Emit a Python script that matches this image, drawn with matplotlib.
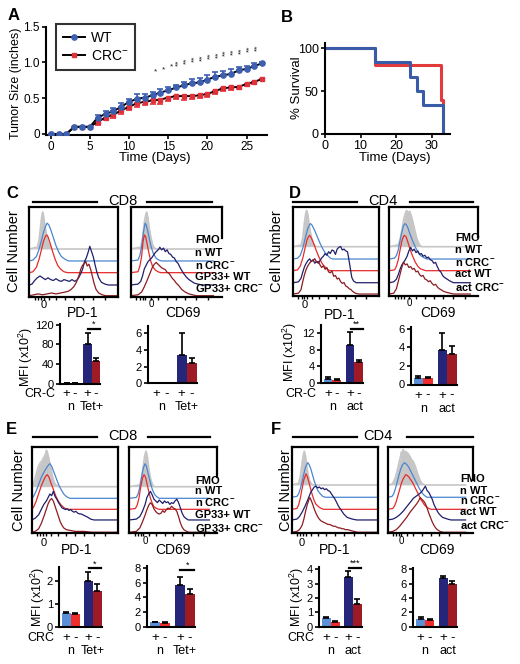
import numpy as np
import matplotlib
matplotlib.use("Agg")
import matplotlib.pyplot as plt
from matplotlib.lines import Line2D
from matplotlib.transforms import blended_transform_factory

plt.rcParams["font.family"] = ["Liberation Sans", "DejaVu Sans"]
plt.rcParams["mathtext.default"] = "regular"

W, H = 520, 664

# ---------------- data ----------------
# A: tumor growth
days = list(range(28))
wt_size = [0, 0, 0, 0.1, 0.1, 0.1, 0.23, 0.28, 0.32, 0.38, 0.45, 0.49, 0.51, 0.54, 0.58, 0.61,
           0.65, 0.68, 0.71, 0.72, 0.76, 0.8, 0.82, 0.84, 0.89, 0.91, 0.95, 0.99]
wt_err = [0, 0, 0, 0, 0, 0, 0.04, 0.04, 0.05, 0.06, 0.04, 0.07, 0.05, 0.05, 0.05, 0.05,
          0.04, 0.05, 0.06, 0.06, 0.06, 0.06, 0.06, 0.07, 0.05, 0.04, 0.04, 0.02]
crc_size = [0, 0, 0, 0.1, 0.1, 0.1, 0.17, 0.23, 0.27, 0.33, 0.38, 0.43, 0.45, 0.47, 0.48, 0.51,
            0.53, 0.53, 0.53, 0.54, 0.56, 0.6, 0.64, 0.65, 0.66, 0.7, 0.73, 0.77]
crc_err = [0, 0, 0, 0, 0, 0, 0.04, 0.04, 0.05, 0.05, 0.05, 0.05, 0.05, 0.05, 0.06, 0.05,
           0.04, 0.05, 0.04, 0.03, 0.04, 0.04, 0.04, 0.03, 0.03, 0.03, 0.03, 0.02]
star_days = list(range(14, 28))
star_text = ["*"] * 3 + ["**"] * 11
star_y = [0.87, 0.9, 0.94, 1.0, 1.03, 1.05, 1.07, 1.09, 1.11, 1.13, 1.15, 1.17, 1.19, 1.21]

# B: survival
wt_time = [0, 14, 24, 26, 27.6, 33.3]
wt_surv = [100, 83.3, 66.7, 50, 33.3, 0]
crc_time = [0, 14, 32.8, 33.3]
crc_surv = [100, 80, 40, 0]

# histogram curves, (channel, height) pairs: FMO, n WT, n CRC-, act/GP33+ WT, act/GP33+ CRC-
c_pd1 = [
    [(9, 2), (11, 10), (13, 28), (14, 36), (15, 41), (16, 37), (17, 30), (19, 18), (21, 8), (23, 3), (26, 0)],
    [(4, 1), (8, 5), (11, 13), (14, 24), (16, 32), (18, 38), (20, 42), (22, 40), (24, 35), (27, 26), (30, 17),
     (33, 10), (36, 5), (40, 2), (44, 0)],
    [(4, 1), (8, 6), (11, 15), (14, 27), (16, 35), (18, 40), (19.5, 42), (21, 40), (23, 34), (26, 24), (29, 15),
     (32, 8), (35, 4), (39, 1), (43, 0)],
    [(3, 1), (6, 5), (9, 8), (12, 10), (15, 8), (18, 6), (21, 8), (24, 6), (27, 5), (30, 7), (33, 5), (36, 4),
     (39, 6), (42, 5), (45, 4), (48, 6), (51, 4), (54, 6), (56, 9), (58, 13), (60, 18), (62, 26), (64, 30),
     (66, 36), (68, 43), (70, 37), (72, 31), (74, 22), (76, 14), (78, 8), (81, 3), (85, 1), (89, 0)],
    [(5, 1), (10, 2), (15, 1), (20, 2), (25, 3), (30, 2), (35, 3), (40, 4), (44, 5), (47, 7), (50, 10), (53, 15),
     (56, 23), (58, 30), (60, 34), (62, 36), (63.5, 38), (65, 33), (67, 35), (69, 29), (71, 21), (73, 13),
     (75, 7), (78, 3), (82, 1), (86, 0)],
]
c_cd69 = [
    [(11, 2), (13, 12), (15, 30), (16.5, 38), (17.5, 41), (19, 35), (20, 26), (22, 14), (24, 5), (26, 1), (28, 0)],
    [(8, 1), (10, 6), (12, 16), (14, 32), (15.8, 42), (17, 40), (19, 32), (21, 22), (23, 14), (25, 8), (28, 3),
     (31, 1), (34, 0)],
    [(8, 1), (10, 7), (12, 18), (13.5, 34), (15, 42), (16.5, 40), (18, 32), (20, 22), (22, 13), (24, 7), (27, 3),
     (30, 1), (33, 0)],
    [(8, 1), (11, 4), (13, 10), (15, 18), (17, 22), (19, 26), (21, 28), (23, 30), (25, 33), (27, 36), (29, 38),
     (31, 40), (32, 42), (34, 39), (36, 41), (38, 37), (40, 39), (42, 35), (44, 34), (46, 31), (48, 30), (50, 26),
     (52, 24), (55, 18), (58, 13), (61, 9), (64, 6), (67, 4), (70, 2), (74, 1), (78, 0)],
    [(8, 1), (12, 4), (15, 10), (18, 17), (20, 22), (22, 27), (24, 32), (26, 35), (28, 37), (30, 35), (32, 33),
     (34, 31), (36, 30), (38, 29), (40, 26), (42, 25), (44, 22), (46, 19), (48, 17), (50, 14), (53, 11), (56, 7),
     (60, 4), (64, 2), (68, 1), (72, 0)],
]
d_pd1 = [
    [(9, 2), (11, 10), (13, 28), (14.5, 38), (15.5, 41), (17, 36), (18, 28), (20, 16), (22, 7), (24, 2), (27, 0)],
    [(5, 1), (8, 4), (11, 12), (14, 24), (17, 35), (19, 39), (20, 40), (22, 38), (25, 32), (28, 25), (31, 18),
     (34, 12), (37, 7), (40, 4), (43, 1), (46, 0)],
    [(5, 1), (8, 5), (11, 14), (14, 27), (16, 35), (18, 39), (19, 40), (21, 37), (24, 30), (27, 22), (30, 15),
     (33, 9), (36, 5), (39, 2), (42, 0)],
    [(6, 1), (9, 5), (11, 12), (13, 18), (15, 22), (17, 25), (19, 27), (21, 24), (23, 26), (25, 22), (27, 24),
     (29, 22), (31, 25), (33, 28), (35, 30), (37, 33), (39, 31), (41, 35), (43, 33), (45, 37), (47, 36), (49, 32),
     (51, 38), (53, 40), (55, 41), (57, 37), (59, 38), (61, 36), (63, 35), (64, 30), (65, 24), (66, 18), (67, 12),
     (68, 6), (70, 2), (73, 0)],
    [(6, 1), (9, 5), (11, 14), (13, 22), (15, 28), (17, 32), (19, 35), (21, 37), (23, 38), (25, 40), (27, 36),
     (29, 37), (31, 33), (33, 30), (35, 32), (37, 28), (39, 30), (41, 25), (43, 24), (45, 26), (47, 20), (49, 21),
     (51, 17), (53, 18), (55, 14), (57, 12), (59, 13), (61, 9), (63, 8), (65, 6), (67, 5), (69, 3), (72, 1), (76, 0)],
]
d_cd69 = [
    [(10, 2), (12, 8), (14, 18), (16, 30), (18, 38), (19.5, 41), (21, 39), (23, 40), (25, 34), (27, 26), (29, 17),
     (31, 9), (33, 4), (35, 1), (37, 0)],
    [(6, 1), (8, 4), (10, 10), (12, 20), (14, 30), (16, 38), (17.6, 40), (19, 39), (21, 35), (23, 29), (26, 21),
     (29, 14), (32, 8), (35, 4), (38, 2), (42, 0)],
    [(6, 1), (8, 5), (10, 12), (12, 23), (14, 33), (16, 39), (17, 40), (19, 38), (21, 32), (23, 25), (26, 17),
     (29, 10), (32, 5), (35, 2), (38, 1), (41, 0)],
    [(5, 1), (8, 4), (10, 9), (12, 15), (14, 20), (16, 23), (18, 26), (20, 30), (22, 36), (24, 40), (26, 36),
     (28, 38), (30, 34), (32, 36), (34, 32), (36, 33), (38, 30), (40, 31), (42, 28), (44, 29), (46, 26), (48, 25),
     (50, 22), (52, 23), (54, 18), (56, 14), (58, 12), (60, 8), (62, 6), (65, 4), (68, 2), (72, 0)],
    [(5, 1), (8, 6), (10, 14), (12, 22), (14, 30), (16, 36), (18, 33), (20, 34), (22, 30), (24, 31), (26, 28),
     (28, 29), (30, 25), (32, 26), (34, 22), (36, 20), (38, 21), (40, 17), (42, 16), (44, 14), (46, 15), (48, 12),
     (50, 10), (52, 11), (54, 8), (56, 6), (58, 5), (61, 3), (64, 2), (68, 1), (72, 0)],
]
e_pd1 = [
    [(2, 3), (4, 10), (6, 18), (8, 24), (10, 28), (12, 30), (14, 34), (16, 38), (17, 42), (18, 40), (20, 32),
     (22, 22), (24, 12), (26, 5), (28, 2), (31, 0)],
    [(2, 2), (5, 8), (8, 16), (11, 24), (14, 30), (17, 35), (19, 38), (21, 40), (23, 37), (25, 32), (28, 24),
     (31, 16), (34, 10), (37, 5), (40, 2), (44, 0)],
    [(2, 2), (5, 9), (8, 18), (11, 27), (14, 34), (16, 38), (18, 40), (20, 37), (22, 31), (25, 23), (28, 15),
     (31, 9), (34, 5), (37, 2), (41, 0)],
    [(4, 2), (8, 6), (11, 12), (14, 18), (17, 22), (19, 26), (21, 30), (23, 28), (25, 33), (27, 27), (29, 24),
     (31, 20), (33, 17), (35, 14), (37, 13), (39, 12), (41, 13), (43, 11), (45, 12), (47, 10), (49, 9), (51, 10),
     (53, 8), (55, 7), (57, 7), (59, 6), (61, 5), (63, 4), (65, 3), (68, 1), (72, 0)],
    [(4, 1), (8, 4), (11, 10), (14, 18), (17, 27), (19, 33), (21, 37), (23, 39), (25, 36), (27, 30), (29, 24),
     (31, 18), (33, 12), (35, 8), (37, 5), (40, 3), (45, 2), (50, 1), (60, 1), (70, 0)],
]
e_cd69 = [
    [(12, 2), (14, 10), (16, 25), (17.5, 36), (19, 41), (20.5, 35), (22, 22), (24, 10), (26, 3), (28, 0)],
    [(8, 1), (10, 5), (12, 13), (14, 25), (16, 35), (17.8, 40), (19.5, 37), (21, 30), (23, 22), (25, 14), (27, 8),
     (29, 4), (31, 2), (34, 0)],
    [(7, 1), (9, 5), (11, 13), (13, 26), (15, 36), (16.7, 40), (18.5, 37), (20, 30), (22, 21), (24, 13), (26, 7),
     (28, 3), (31, 1), (34, 0)],
    [(8, 1), (12, 4), (15, 10), (18, 18), (20, 26), (22, 30), (24, 33), (26, 29), (28, 24), (30, 22), (32, 20),
     (34, 23), (36, 21), (38, 19), (40, 22), (42, 20), (44, 21), (46, 18), (48, 20), (50, 19), (52, 22), (54, 24),
     (56, 20), (58, 14), (60, 8), (62, 4), (64, 2), (67, 0)],
    [(8, 1), (12, 5), (15, 12), (18, 20), (20, 26), (22, 31), (24, 34), (26, 32), (28, 27), (30, 24), (32, 22),
     (34, 21), (36, 22), (38, 25), (40, 23), (42, 26), (44, 28), (46, 27), (48, 30), (50, 28), (52, 27), (54, 24),
     (56, 18), (58, 11), (60, 6), (62, 3), (65, 1), (68, 0)],
]
f_pd1 = [
    [(8, 2), (10, 10), (12, 25), (13.5, 35), (14.6, 39), (16, 33), (17, 24), (19, 12), (21, 4), (23, 1), (25, 0)],
    [(6, 1), (8, 4), (10, 10), (12, 18), (14, 27), (16, 35), (18.5, 40), (20, 38), (22, 33), (24, 26), (26, 19),
     (28, 13), (30, 8), (33, 4), (36, 1), (39, 0)],
    [(6, 1), (8, 5), (10, 13), (12, 24), (14, 34), (16.5, 41), (18, 38), (20, 31), (22, 23), (24, 16), (26, 10),
     (28, 6), (31, 3), (34, 1), (37, 0)],
    [(6, 1), (9, 4), (12, 9), (15, 15), (18, 22), (20, 27), (22, 32), (24, 35), (26, 38), (28, 39), (30, 37),
     (32, 38), (34, 36), (36, 37), (38, 35), (40, 36), (42, 34), (44, 33), (46, 30), (48, 27), (50, 24), (52, 20),
     (54, 16), (56, 13), (58, 10), (60, 7), (62, 5), (64, 3), (67, 2), (70, 1), (75, 0)],
    [(6, 1), (9, 3), (12, 8), (14, 15), (16, 24), (18, 32), (20, 38), (21, 40), (22, 38), (24, 33), (26, 27),
     (28, 22), (30, 18), (32, 15), (34, 13), (36, 12), (38, 11), (40, 10), (42, 9), (44, 9), (46, 8), (48, 7),
     (50, 7), (52, 6), (54, 5), (56, 5), (58, 4), (60, 4), (62, 3), (65, 3), (68, 2), (72, 1), (76, 0)],
]
f_cd69 = [
    [(5, 1), (7, 4), (9, 9), (11, 16), (13, 25), (15, 33), (16, 38), (17, 35), (18, 41), (19, 37), (20, 39),
     (22, 38), (24, 36), (26, 33), (28, 29), (30, 27), (32, 22), (34, 16), (36, 10), (38, 5), (40, 2), (43, 0)],
    [(5, 1), (7, 4), (9, 10), (11, 17), (13, 25), (15, 32), (17, 37), (19.5, 40), (21, 39), (23, 37), (25, 34),
     (27, 30), (29, 26), (31, 22), (33, 18), (35, 14), (37, 10), (39, 7), (41, 4), (43, 2), (46, 0)],
    [(6, 1), (8, 4), (10, 9), (12, 16), (14, 23), (16, 30), (18, 35), (21, 40), (23, 39), (25, 37), (27, 34),
     (29, 31), (31, 27), (33, 23), (35, 19), (37, 15), (39, 11), (41, 8), (43, 5), (45, 3), (48, 1), (51, 0)],
    [(6, 1), (10, 3), (14, 6), (18, 10), (22, 15), (26, 20), (30, 25), (34, 28), (38, 31), (40, 33), (42, 36),
     (44, 39), (46, 34), (48, 32), (50, 28), (52, 24), (54, 18), (56, 14), (58, 10), (60, 7), (62, 5), (64, 3),
     (67, 2), (70, 1), (74, 0)],
    [(6, 1), (10, 3), (14, 7), (18, 12), (22, 17), (26, 23), (30, 28), (34, 33), (36, 36), (38, 40), (40, 38),
     (42, 36), (44, 33), (46, 28), (48, 22), (50, 17), (52, 12), (54, 8), (56, 5), (58, 3), (61, 1), (65, 0)],
]
cd8_labels = ["FMO", "n WT", "n CRC$^{-}$", "GP33+ WT", "GP33+ CRC$^{-}$"]
cd4_labels = ["FMO", "n WT", "n CRC$^{-}$", "act WT", "act CRC$^{-}$"]

# MFI bars: n +, n -, act/Tet+ +, act/Tet+ -
c_pd1_mfi = [0.6, 0.5, 80, 47]
c_pd1_err = [0, 0, 23, 5]
c_cd69_mfi = [0.04, 0.03, 3.45, 2.5]
c_cd69_err = [0, 0, 2.55, 0.6]
d_pd1_mfi = [0.9, 0.7, 9.2, 5.0]
d_pd1_err = [0.4, 0.3, 3.2, 0.4]
d_cd69_mfi = [0.75, 0.7, 3.7, 3.25]
d_cd69_err = [0.12, 0.1, 1.85, 0.9]
e_pd1_mfi = [0.62, 0.55, 2.0, 1.55]
e_pd1_err = [0.04, 0.04, 0.38, 0.33]
e_cd69_mfi = [0.6, 0.55, 5.75, 4.5]
e_cd69_err = [0.1, 0.1, 1.1, 0.6]
f_pd1_mfi = [0.58, 0.32, 3.45, 1.6]
f_pd1_err = [0.08, 0.07, 0.42, 0.32]
f_cd69_mfi = [1.1, 0.9, 6.85, 5.9]
f_cd69_err = [0.2, 0.15, 0.3, 0.5]

# ---------------- styling ----------------
GRAY = "#c6c6c6"
LBLUE = "#4a86d0"
RED = "#e82a2a"
NAVY = "#1f1f6b"
DRED = "#8c1c22"
BAR_COLORS = ["#5b8fd8", "#ef2d2d", "#25257a", "#9e1b26"]
BAR_POS = [0, 1, 2.5, 3.5]

fig = plt.figure(figsize=(W / 100, H / 100), dpi=100)


def add_ax(left, top, width, height):
    # positions given in pixels from the top-left corner
    return fig.add_axes([left / W, 1 - (top + height) / H, width / W, height / H])


def ftext(x, y, s, **kw):
    kw.setdefault("ha", "center")
    kw.setdefault("va", "center")
    fig.text(x / W, 1 - y / H, s, **kw)


def hline(x1, x2, y, lw=1.6):
    fig.add_artist(Line2D([x1 / W, x2 / W], [1 - y / H, 1 - y / H], color="k", lw=lw))


def style_axis(ax, lw=1.5):
    for s in ["top", "right"]:
        ax.spines[s].set_visible(False)
    for s in ["left", "bottom"]:
        ax.spines[s].set_linewidth(lw)
    ax.tick_params(width=1.2, length=3, labelsize=8.5, pad=1.5)


def hist_box(left, top, w, h, curves, offsets, xend, right_to=None):
    ax = add_ax(left, top, w, h)
    colors = [GRAY, LBLUE, RED, NAVY, DRED]
    for k, pts in enumerate(curves):
        x = [0] + [p[0] for p in pts] + [xend]
        y = np.array([0] + [p[1] for p in pts] + [0]) + offsets[k]
        if k == 0:
            ax.fill_between(x, offsets[k], y, color=GRAY, lw=0)
            ax.plot(x, y, color=GRAY, lw=1.2)
        else:
            ax.plot(x, y, color=colors[k], lw=0.9)
    ax.set_xlim(0, 100)
    ax.set_ylim(0, 100)
    ax.set_yticks([])
    ax.set_xticks([6, 10, 13, 16, 22, 30, 40, 50, 60, 72, 85])
    ax.tick_params(axis="x", length=2, width=1, labelbottom=False)
    for s in ax.spines.values():
        s.set_linewidth(1.6)
    if right_to is not None:
        ax.spines["right"].set_visible(False)
        ax.add_line(Line2D([1, 1], [1, 1 - right_to / h], transform=ax.transAxes,
                           color="k", lw=1.6, clip_on=False))
    return ax


def bar_box(left, top, w, h, vals, errs, ymax, yticks, groups, factor=None, sig=None):
    ax = add_ax(left, top, w, h)
    ax.bar(BAR_POS, vals, 1.0, color=BAR_COLORS, lw=0)
    ax.errorbar(BAR_POS, vals, yerr=[[0] * 4, errs], fmt="none", ecolor="k",
                elinewidth=1.2, capsize=2, capthick=1.2)
    ax.set_xlim(-0.8, 4.0)
    ax.set_ylim(0, ymax)
    ax.set_yticks(yticks)
    ax.set_xticks([])
    style_axis(ax)
    ax.tick_params(axis="y", labelsize=8)
    tr = blended_transform_factory(ax.transData, ax.transAxes)
    for p, s in zip(BAR_POS, ["+", "-", "+", "-"]):
        ax.text(p, -11 / h, s, transform=tr, ha="center", va="center", fontsize=9.5)
    ax.text(0.5, -24 / h, groups[0], transform=tr, ha="center", va="center", fontsize=9)
    ax.text(3.0, -24 / h, groups[1], transform=tr, ha="center", va="center", fontsize=9)
    if factor is not None:
        ftext(left - 5, top + h + 11, factor, ha="right", fontsize=9)
    if sig is not None:
        ax.plot([2.55, 3.95], [sig[0], sig[0]], color="k", lw=1.6, clip_on=False)
        ax.text(3.25, sig[0], sig[1], ha="center", va="bottom", fontsize=6.5)
    return ax


# ---------------- A: tumor size ----------------
ax = add_ax(46, 26.7, 221, 108)
ax.errorbar(days, wt_size, yerr=[[0] * 28, wt_err], fmt="none", ecolor="#3c5fb0",
            elinewidth=1.2, capsize=2.2, capthick=1.2, zorder=2)
ax.errorbar(days, crc_size, yerr=[crc_err, [0] * 28], fmt="none", ecolor="#e0303a",
            elinewidth=1.2, capsize=2.2, capthick=1.2, zorder=2)
ax.plot(days, crc_size, color="k", lw=1.4, marker="s", ms=3.5, mfc="#e0303a", mec="#e0303a",
        label="CRC$^{-}$", zorder=3)
ax.plot(days, wt_size, color="k", lw=1.4, marker="o", ms=3.8, mfc="#3c5fb0", mec="#3c5fb0",
        label="WT", zorder=4)
for d, s, yy in zip(star_days, star_text, star_y):
    ax.text(d - 0.6, yy, s, ha="center", va="center", fontsize=6,
            rotation=90 if s == "**" else 0, color="#222222")
ax.set_xlim(-0.6, 27.6)
ax.set_ylim(-0.01, 1.5)
ax.set_xticks([0, 5, 10, 15, 20, 25])
ax.set_yticks([0, 0.5, 1.0, 1.5])
ax.set_yticklabels(["0", "0.5", "1.0", "1.5"])
style_axis(ax)
ax.tick_params(labelsize=8.5)
handles, labels = ax.get_legend_handles_labels()
leg = ax.legend(handles[::-1], labels[::-1], loc="upper left", bbox_to_anchor=(56 / W, 1 - 24 / H),
                bbox_transform=fig.transFigure, borderaxespad=0, fontsize=10, handlelength=1.6,
                frameon=True, fancybox=False, edgecolor="k", borderpad=0.5, labelspacing=0.3,
                handletextpad=0.4)
leg.get_frame().set_linewidth(1.5)
ftext(16, 83, "Tumor Size (inches)", rotation=90, fontsize=9)
ftext(155, 158, "Time (Days)", fontsize=9.5)
ftext(14, 15, "A", fontsize=12, fontweight="bold")

# ---------------- B: survival ----------------
ax = add_ax(325, 43, 125, 91)
ax.step(crc_time, crc_surv, where="post", color="#e23b3b", lw=2.2)
ax.step(wt_time, wt_surv, where="post", color="#3a5ba8", lw=2.2)
ax.set_xlim(0, 35.2)
ax.set_ylim(0, 106)
ax.set_xticks([0, 10, 20, 30])
ax.set_yticks([0, 50, 100])
style_axis(ax)
ax.tick_params(labelsize=9)
ftext(297, 88, "% Survival", rotation=90, fontsize=9.5)
ftext(395, 158, "Time (Days)", fontsize=9.5)
ftext(287, 17, "B", fontsize=12, fontweight="bold")

# ---------------- flow panels ----------------
c_off = [53, 39.7, 26.7, 13, 1.1]
d_off = [55.4, 41.5, 28.3, 14.7, 1.9]
e_off = [53.8, 40.4, 27.7, 15.4, 1.2]
f_off = [55.8, 41.6, 27.7, 15.4, 1.2]
LAB_FS = 8

# C
ftext(12, 193, "C", fontsize=12, fontweight="bold")
hline(33, 97, 201.7)
hline(147, 212, 201.7)
ftext(123, 201, "CD8", fontsize=10.5)
hist_box(29.3, 206.7, 89, 90, c_pd1, c_off, 100)
hist_box(130.7, 206.7, 91, 90, c_cd69, c_off, 91, right_to=31.6)
for lab, yy in zip(cd8_labels, [240, 253, 265, 276.7, 288]):
    ftext(195, yy, lab, ha="left", fontsize=LAB_FS, fontweight="bold")
ftext(14, 251, "Cell Number", rotation=90, fontsize=10.5)
ftext(43.3, 305, "0", fontsize=8)
ftext(83, 313, "PD-1", fontsize=10)
ftext(151, 304, "0", fontsize=7)
ftext(183, 313, "CD69", fontsize=10)
bar_box(60, 324, 40, 59.5, c_pd1_mfi, c_pd1_err, 122, [0, 40, 80, 120], ["n", "Tet+"],
        factor="CR-C", sig=(112, "*"))
bar_box(148, 326, 49, 57.3, c_cd69_mfi, c_cd69_err, 6.9, [0, 2, 4, 6], ["n", "Tet+"])
ftext(26, 357, "MFI (x10$^{2}$)", rotation=90, fontsize=9)

# D
ftext(295, 193, "D", fontsize=12, fontweight="bold")
hline(293, 357, 201.7)
hline(410, 473, 201.7)
ftext(383, 201, "CD4", fontsize=10.5)
hist_box(293.3, 207.3, 86, 88.4, d_pd1, d_off, 100)
hist_box(389.3, 207.3, 89, 88.4, d_cd69, d_off, 91, right_to=29.4)
for lab, yy in zip(cd4_labels, [238.3, 250, 261.7, 274, 287]):
    ftext(455, yy, lab, ha="left", fontsize=LAB_FS, fontweight="bold")
ftext(277, 251, "Cell Number", rotation=90, fontsize=10.5)
ftext(305, 305, "0", fontsize=8)
ftext(340, 315, "PD-1", fontsize=10)
ftext(409, 303, "0", fontsize=7)
ftext(438, 313, "CD69", fontsize=10)
bar_box(321, 325, 42.3, 57.7, d_pd1_mfi, d_pd1_err, 14, [0, 4, 8, 12], ["n", "act"],
        factor="CR-C", sig=(13, "**"))
bar_box(410.7, 326.7, 46, 57.8, d_cd69_mfi, d_cd69_err, 6.2, [0, 2, 4, 6], ["n", "act"])
ftext(290, 352, "MFI (x10$^{2}$)", rotation=90, fontsize=9)

# E
ftext(11, 430, "E", fontsize=12, fontweight="bold")
hline(33, 97, 436.7)
hline(148, 210, 436.7)
ftext(123, 436, "CD8", fontsize=10.5)
hist_box(31.7, 446.7, 86.6, 86.6, e_pd1, e_off, 100)
hist_box(129.3, 446.7, 88, 86.6, e_cd69, e_off, 91, right_to=30)
for lab, yy in zip(cd8_labels, [480.7, 491.5, 502.5, 515, 528]):
    ftext(195, yy, lab, ha="left", fontsize=LAB_FS, fontweight="bold")
ftext(19, 490, "Cell Number", rotation=90, fontsize=10.5)
ftext(43.3, 543, "0", fontsize=8)
ftext(77, 550, "PD-1", fontsize=10)
ftext(145, 541, "0", fontsize=7)
ftext(173, 550, "CD69", fontsize=10)
bar_box(59.3, 566.7, 42.4, 60, e_pd1_mfi, e_pd1_err, 2.63, [0, 1, 2], ["n", "Tet+"],
        factor="CRC", sig=(2.56, "*"))
bar_box(146.7, 566, 48.3, 60.7, e_cd69_mfi, e_cd69_err, 8.3, [0, 2, 4, 6, 8], ["n", "Tet+"],
        sig=(7.77, "*"))
ftext(38, 597, "MFI (x10$^{2}$)", rotation=90, fontsize=9)

# F
ftext(276, 430, "F", fontsize=12, fontweight="bold")
hline(293, 357, 436.7)
hline(407, 473, 436.7)
ftext(378, 436, "CD4", fontsize=10.5)
hist_box(291.7, 446.7, 86.6, 86.6, f_pd1, f_off, 100)
hist_box(387.7, 446.7, 85.6, 86.6, f_cd69, f_off, 91, right_to=33.3)
for lab, yy in zip(cd4_labels, [479.3, 491, 500.5, 512, 525]):
    ftext(460, yy, lab, ha="left", fontsize=LAB_FS, fontweight="bold")
ftext(286, 490, "Cell Number", rotation=90, fontsize=10.5)
ftext(301.7, 543, "0", fontsize=8)
ftext(335, 550, "PD-1", fontsize=10)
ftext(401.7, 541, "0", fontsize=7)
ftext(437, 550, "CD69", fontsize=10)
bar_box(319.3, 566.5, 42.4, 60.2, f_pd1_mfi, f_pd1_err, 4.2, [0, 1, 2, 3, 4], ["n", "act"],
        factor="CRC", sig=(4.12, "***"))
bar_box(413.3, 568, 43.4, 58.7, f_cd69_mfi, f_cd69_err, 8.2, [0, 2, 4, 6, 8], ["n", "act"])
ftext(297, 597, "MFI (x10$^{2}$)", rotation=90, fontsize=9)

fig.savefig("out.png", dpi=100, facecolor="white")
